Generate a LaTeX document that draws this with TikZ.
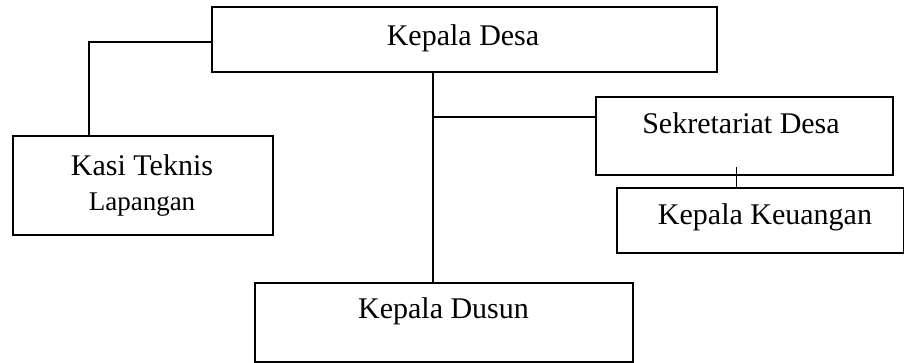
\documentclass[tikz,border=0pt]{standalone}
\usepackage{fontspec}
\setmainfont{Liberation Serif}
\begin{document}
\begin{tikzpicture}[x=1pt,y=-1pt,
  box/.style={draw, line width=1.5pt, rectangle, inner sep=0pt, anchor=north west},
  lbl/.style={anchor=base, inner sep=0pt, font=\fontsize{30}{36}\selectfont},
  small/.style={anchor=base, inner sep=0pt, font=\fontsize{27}{32}\selectfont},
  link/.style={line width=1.5pt}]
\useasboundingbox (0,0) rectangle (904,362);

% boxes
\node[box, minimum width=505pt, minimum height=65pt] (desa) at (211,6) {};
\node[box, minimum width=260pt, minimum height=99pt] (kasi) at (12,135) {};
\node[box, minimum width=297pt, minimum height=78pt] (sek) at (595,96) {};
\node[box, minimum width=287pt, minimum height=65pt] (keu) at (616,187) {};
\node[box, minimum width=378pt, minimum height=79pt] (dusun) at (254,282) {};

% labels
\node[lbl] (tdesa) at (463,45) {Kepala Desa};
\node[lbl] (tkasi) at (142,175) {Kasi Teknis};
\node[small] (tlap) at (142,210) {Lapangan};
\node[lbl] (tsek) at (741,133) {Sekretariat Desa};
\node[lbl] (tkeu) at (765,224) {Kepala Keuangan};
\node[lbl] (tdusun) at (443.5,318) {Kepala Dusun};

% connectors
\draw[link] ([yshift=-2.5pt]desa.west) -| ([xshift=-54pt]kasi.north);
\coordinate (trunk) at ([xshift=-31.5pt]desa.south);
\draw[link] (trunk) -- (trunk |- dusun.north);
\coordinate (branch) at (trunk |- 0,117);
\draw[link] (branch) -- (branch -| sek.west);
\coordinate (sekdrop) at ([xshift=-8pt,yshift=9pt]sek.south);
\draw[link] (sekdrop) -- (sekdrop |- keu.north);
\end{tikzpicture}
\end{document}
